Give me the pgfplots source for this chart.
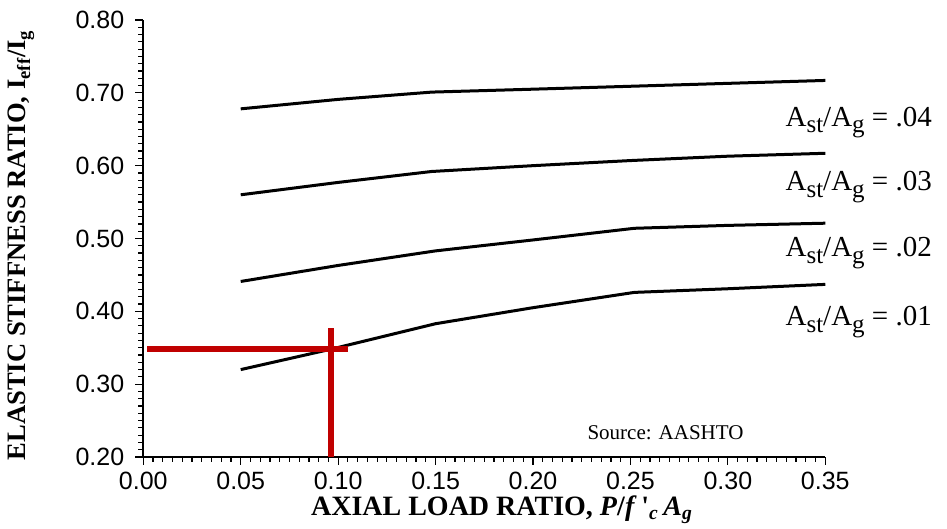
\documentclass[border=0pt]{standalone}
\usepackage{fontspec}
\setmainfont{Liberation Serif}
\newfontfamily\tickfont{Liberation Sans}
\usepackage{pgfplots}
\pgfplotsset{compat=1.18}
\definecolor{redl}{RGB}{192,0,0}
\newcommand{\sub}[1]{\raisebox{-0.5ex}{\fontsize{12.5}{13}\selectfont #1}}
\begin{document}
\begin{tikzpicture}
\useasboundingbox (-71.65pt,-36pt) rectangle (401.85pt,228.5pt);
\begin{axis}[
  at={(0,0)}, anchor=south west,
  scale only axis,
  width=341pt, height=218.5pt,
  xmin=0, xmax=0.35, ymin=0.2, ymax=0.8,
  axis x line*=bottom, axis y line*=left,
  axis line style={-, line width=0.8pt},
  xtick={0,0.05,0.10,0.15,0.20,0.25,0.30,0.35},
  ytick={0.2,0.3,0.4,0.5,0.6,0.7,0.8},
  minor x tick num=9, minor y tick num=9,
  tick align=outside, major tick length=4pt, minor tick length=2.5pt,
  tick style={black, line width=0.6pt},
  /pgf/number format/assume math mode=true,
  tick label style={font=\tickfont\fontsize{12.5}{14}\selectfont},
  xticklabel style={/pgf/number format/.cd, fixed, fixed zerofill, precision=2},
  yticklabel style={xshift=-2pt, /pgf/number format/.cd, fixed, fixed zerofill, precision=2},
  xlabel={\textbf{AXIAL LOAD RATIO, \textit{P}/\textit{f}\,\textquotesingle\textsubscript{\textit{c}}\,\textit{A}\textsubscript{\textit{g}}}},
  ylabel={\textbf{ELASTIC STIFFNESS RATIO, I\textsubscript{eff}/I\textsubscript{g}}},
  xlabel style={font=\fontsize{14}{16}\selectfont, at={(axis description cs:0.526,-0.121)}, anchor=center},
  ylabel style={font=\fontsize{13.3}{15}\selectfont, at={(axis description cs:-0.179,0.485)}, anchor=center},
  clip=false,
]
\addplot[black, line width=1.5pt] coordinates {(0.05,0.678)(0.10,0.691)(0.148,0.701)(0.20,0.705)(0.25,0.709)(0.30,0.713)(0.35,0.717)};
\addplot[black, line width=1.5pt] coordinates {(0.05,0.560)(0.10,0.577)(0.148,0.592)(0.20,0.600)(0.25,0.607)(0.30,0.613)(0.35,0.617)};
\addplot[black, line width=1.5pt] coordinates {(0.05,0.441)(0.10,0.463)(0.15,0.483)(0.20,0.498)(0.252,0.514)(0.30,0.518)(0.35,0.521)};
\addplot[black, line width=1.5pt] coordinates {(0.05,0.320)(0.0963,0.348)(0.15,0.383)(0.20,0.405)(0.252,0.426)(0.30,0.431)(0.35,0.437)};
\addplot[redl, line width=2.8pt] coordinates {(0.002,0.348)(0.105,0.348)};
\addplot[redl, line width=2.8pt] coordinates {(0.0963,0.2)(0.0963,0.377)};
\node[anchor=west, font=\fontsize{14.5}{16}\selectfont] at (axis cs:0.326,0.659) {A\sub{st}/A\sub{g} = .04};
\node[anchor=west, font=\fontsize{14.5}{16}\selectfont] at (axis cs:0.326,0.571) {A\sub{st}/A\sub{g} = .03};
\node[anchor=west, font=\fontsize{14.5}{16}\selectfont] at (axis cs:0.326,0.480) {A\sub{st}/A\sub{g} = .02};
\node[anchor=west, font=\fontsize{14.5}{16}\selectfont] at (axis cs:0.326,0.385) {A\sub{st}/A\sub{g} = .01};
\node[font=\fontsize{10.5}{12}\selectfont] at (axis cs:0.268,0.234) {Source: AASHTO};
\end{axis}
\end{tikzpicture}
\end{document}
